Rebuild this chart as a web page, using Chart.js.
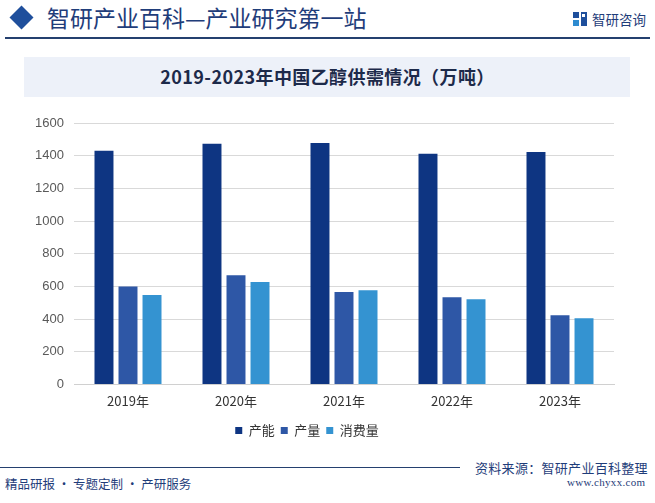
<!DOCTYPE html>
<html>
<head>
<meta charset="utf-8">
<script src="https://cdn.jsdelivr.net/npm/chart.js@4.4.0/dist/chart.umd.min.js"></script>
<style>
  html, body { margin:0; padding:0; background:#fff; }
  body { width:655px; height:503px; position:relative; overflow:hidden; font-family:"Noto Sans CJK SC", "Noto Sans", sans-serif; }
  .abs { position:absolute; white-space:nowrap; }
  #diamond { left:13px; top:9px; width:17px; height:17px; background:#1f4f9c; transform:rotate(45deg); }
  #head { left:47px; top:0px; font-size:23px; color:#1f3d7a; }
  #hline { left:5px; top:37px; width:645px; height:2px; background:#24406f; }
  #logoicon { left:573px; top:12px; width:14px; height:14px; }
  #logotext { left:592px; top:9px; font-size:13.5px; color:#1f3d7a; }
  #tbox { left:24px; top:57px; width:606px; height:40px; background:#edf1f9; }
  #title { left:0; top:63px; width:655px; text-align:center; font-size:18px; font-weight:bold; color:#1d2a4a; letter-spacing:0.4px; }
  #chartwrap { left:0; top:105px; width:655px; height:342px; }
  #fline { left:0; top:467px; width:460px; height:1px; background:#24406f; }
  #src { left:475px; top:458px; font-size:13px; letter-spacing:0.3px; color:#1f3d7a; }
  #slogan { left:5px; top:474px; font-size:12.5px; color:#1f3d7a; }
  #url { left:567px; top:476px; font-size:11px; letter-spacing:0.3px; color:#1f3d7a; font-family:"Liberation Serif", serif; }
</style>
</head>
<body>
<div class="abs" id="diamond"></div>
<div class="abs" id="head">智研产业百科—产业研究第一站</div>
<div class="abs" id="hline"></div>
<svg class="abs" id="logoicon" viewBox="0 0 14 14"><rect x="0" y="0" width="6" height="6" fill="#1f4f9c"/><rect x="0" y="8" width="6" height="6" fill="#2e8bd0"/><rect x="8" y="0" width="6" height="14" fill="#1f4f9c"/><rect x="9" y="2" width="3" height="3" fill="#fff"/></svg>
<div class="abs" id="logotext">智研咨询</div>
<div class="abs" id="tbox"></div>
<div class="abs" id="title">2019-2023年中国乙醇供需情况（万吨）</div>
<div class="abs" id="chartwrap"><canvas id="c" width="655" height="342"></canvas></div>
<div class="abs" id="fline"></div>
<div class="abs" id="src">资料来源：智研产业百科整理</div>
<div class="abs" id="slogan">精品研报 · 专题定制 · 产研服务</div>
<div class="abs" id="url">www.chyxx.com</div>
<script>
const categories = ["2019年", "2020年", "2021年", "2022年", "2023年"];
const capacity = [1430, 1473, 1477, 1412, 1422];
const production = [600, 668, 566, 533, 423];
const consumption = [547, 627, 576, 521, 405];
const seriesNames = ["产能", "产量", "消费量"];
const yTicks = [0, 200, 400, 600, 800, 1000, 1200, 1400, 1600];

const colors = ["#0e3582", "#2e57a6", "#3493d1"];
const ds = [capacity, production, consumption].map((d, i) => ({
  label: seriesNames[i], data: d, backgroundColor: colors[i], borderWidth: 0,
  categoryPercentage: 0.667, barPercentage: 0.79
}));

new Chart(document.getElementById('c'), {
  type: 'bar',
  data: { labels: categories, datasets: ds },
  options: {
    responsive: false, animation: false, devicePixelRatio: 1,
    layout: { padding: { left: 0, right: 41, top: 18, bottom: 0 } },
    plugins: {
      legend: { position: 'bottom', labels: { boxWidth: 7, boxHeight: 7, padding: 6, color: '#333', font: { size: 13, family: '"Noto Sans CJK SC", sans-serif' } } },
      tooltip: { enabled: false }
    },
    scales: {
      x: {
        grid: { display: false, drawTicks: false },
        border: { display: true, color: '#d0d0d0' },
        ticks: { color: '#333', font: { size: 13, family: '"Noto Sans CJK SC", sans-serif' }, padding: 9 }
      },
      y: {
        min: 0, max: 1600,
        afterBuildTicks: s => { s.ticks = yTicks.map(v => ({ value: v })); },
        afterFit: s => { s.width = 74; },
        grid: { color: '#d9d9d9', drawTicks: false },
        border: { display: false },
        ticks: { color: '#595959', font: { size: 13, family: 'Liberation Sans, sans-serif' }, padding: 10, callback: v => String(v) }
      }
    }
  }
});
</script>
</body>
</html>
